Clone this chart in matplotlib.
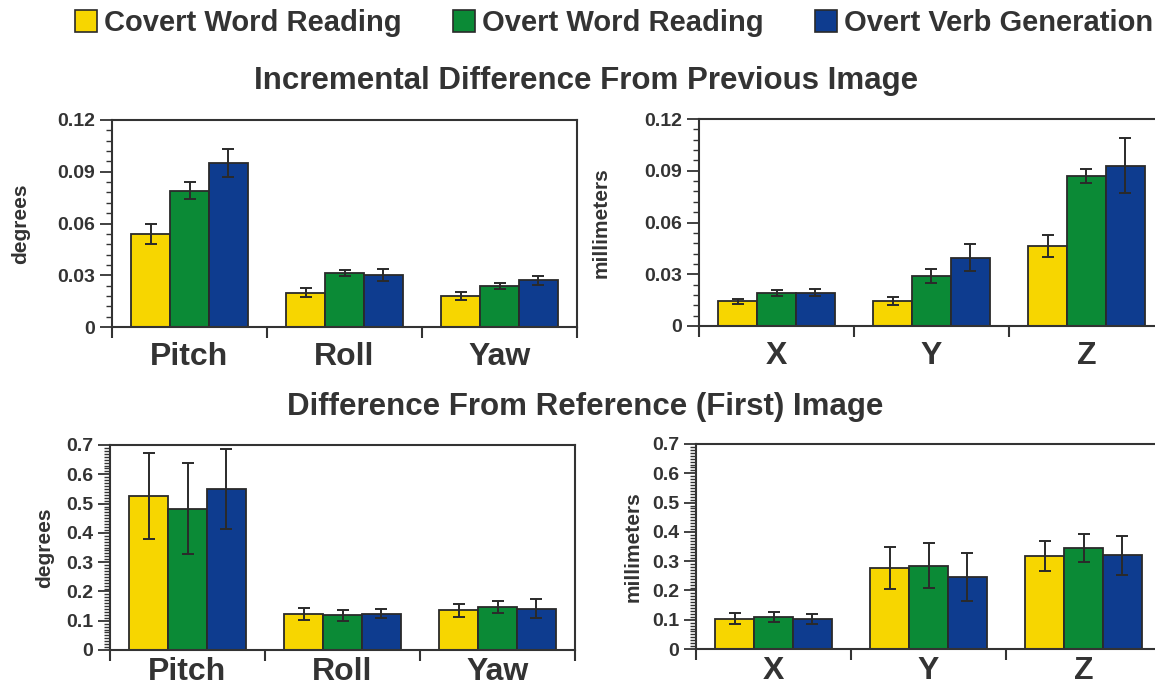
import matplotlib
matplotlib.use("Agg")
import matplotlib.pyplot as plt
import numpy as np
from matplotlib.patches import Patch
from matplotlib.ticker import MultipleLocator

plt.rcParams['font.family'] = ['Liberation Sans', 'DejaVu Sans']
plt.rcParams['font.weight'] = 'bold'

conditions = ["Covert Word Reading", "Overt Word Reading", "Overt Verb Generation"]
colors = ["#F7D600", "#0B8A36", "#0E3C8F"]
rot_labels = ["Pitch", "Roll", "Yaw"]
trans_labels = ["X", "Y", "Z"]

# incremental difference from previous image (rows = condition, cols = axis)
inc_rot = [[0.054, 0.020, 0.018],
           [0.079, 0.0315, 0.024],
           [0.095, 0.030, 0.027]]
inc_rot_err = [[0.006, 0.0027, 0.0025],
               [0.005, 0.0017, 0.0017],
               [0.008, 0.0035, 0.0028]]
inc_trans = [[0.0143, 0.0145, 0.0464],
             [0.019, 0.0288, 0.0871],
             [0.0192, 0.0397, 0.093]]
inc_trans_err = [[0.0015, 0.0025, 0.0063],
                 [0.0017, 0.004, 0.004],
                 [0.002, 0.008, 0.016]]

# difference from reference (first) image
ref_rot = [[0.526, 0.123, 0.135],
           [0.483, 0.118, 0.146],
           [0.549, 0.124, 0.141]]
ref_rot_err = [[0.147, 0.019, 0.021],
               [0.154, 0.019, 0.021],
               [0.137, 0.016, 0.032]]
ref_trans = [[0.103, 0.277, 0.318],
             [0.1095, 0.285, 0.346],
             [0.104, 0.246, 0.320]]
ref_trans_err = [[0.019, 0.072, 0.050],
                 [0.016, 0.078, 0.048],
                 [0.017, 0.083, 0.066]]

W, H = 1155, 691
fig = plt.figure(figsize=(W / 100, H / 100), dpi=100)
txt = "#333333"


def make_axes(px_left, px_top, px_bottom):
    return fig.add_axes([px_left / W, 1 - px_bottom / H, 465 / W, (px_bottom - px_top) / H])


def draw(ax, vals, errs, cats, ymax, major, minor, ylabel, label_x, cat_pad):
    x = np.arange(len(cats))
    width = 0.25
    for i in range(len(vals)):
        ax.bar(x + (i - 1) * width, vals[i], width, color=colors[i],
               edgecolor="#2a2a2a", linewidth=1.3, zorder=2)
        ax.errorbar(x + (i - 1) * width, vals[i], yerr=errs[i], fmt="none",
                    ecolor="#2a2a2a", elinewidth=1.4, capsize=4, capthick=1.4, zorder=3)
    ax.set_xlim(-0.5, len(cats) - 0.5)
    ax.set_ylim(0, ymax)
    ax.set_xticks(np.arange(len(cats) + 1) - 0.5)
    ax.set_xticklabels([])
    ax.set_xticks(x, cats, minor=True)
    ax.tick_params(axis="x", which="major", direction="out", length=8, width=1.5, color="#333333")
    ax.tick_params(axis="x", which="minor", length=0, pad=cat_pad, labelsize=23, labelcolor=txt)
    ax.yaxis.set_major_locator(MultipleLocator(major))
    ax.yaxis.set_minor_locator(MultipleLocator(minor))
    ax.tick_params(axis="y", which="major", direction="out", length=9, width=1.3, pad=3,
                   labelsize=14, labelcolor=txt, color="#333333")
    ax.tick_params(axis="y", which="minor", direction="out", length=4, width=1.0, color="#333333")
    ax.yaxis.set_major_formatter(plt.FuncFormatter(lambda v, p: "0" if v == 0 else f"{v:g}"))
    for s in ax.spines.values():
        s.set_linewidth(1.5)
        s.set_color("#333333")
    ax.set_ylabel(ylabel, fontsize=15, fontweight="bold", color=txt)
    ax.yaxis.set_label_coords(label_x, 0.5)


ax1 = make_axes(112, 120, 327)
ax2 = make_axes(699, 119, 326)
ax3 = make_axes(110, 445, 650)
ax4 = make_axes(696, 444, 649)

draw(ax1, inc_rot, inc_rot_err, rot_labels, 0.12, 0.03, 0.006, "degrees", -0.175, 11)
draw(ax2, inc_trans, inc_trans_err, trans_labels, 0.12, 0.03, 0.006, "millimeters", -0.19, 11)
draw(ax3, ref_rot, ref_rot_err, rot_labels, 0.7, 0.1, 0.01, "degrees", -0.12, 5)
draw(ax4, ref_trans, ref_trans_err, trans_labels, 0.7, 0.1, 0.01, "millimeters", -0.115, 5)

fig.text(586 / W, 1 - 81 / H, "Incremental Difference From Previous Image",
         ha="center", va="center", fontsize=22.5, color=txt)
fig.text(585 / W, 1 - 407 / H, "Difference From Reference (First) Image",
         ha="center", va="center", fontsize=22.5, color=txt)

handles = [Patch(facecolor=c, edgecolor="#2a2a2a", linewidth=1.2) for c in colors]
fig.legend(handles, conditions, loc="center", bbox_to_anchor=(614 / W, 1 - 23 / H),
           ncol=3, frameon=False, handlelength=0.75, handleheight=0.8,
           handletextpad=0.25, columnspacing=1.75, borderaxespad=0, borderpad=0,
           prop={"size": 21, "weight": "bold"}, labelcolor=txt)

fig.savefig("out.png", dpi=100)
